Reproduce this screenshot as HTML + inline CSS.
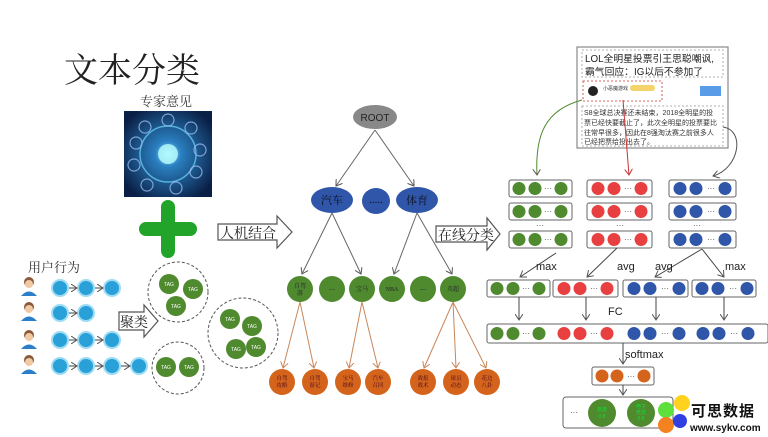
<!DOCTYPE html>
<html><head><meta charset="utf-8"><style>
html,body{margin:0;padding:0;background:#fff;}
svg{display:block;font-family:"Liberation Sans","Noto Sans CJK SC",sans-serif;}
.s{font-family:"Liberation Serif","Noto Serif CJK SC",serif;}
</style></head><body>
<svg width="768" height="437" viewBox="0 0 768 437" xmlns="http://www.w3.org/2000/svg">
<defs>
<marker id="ag" markerWidth="8" markerHeight="8" refX="6" refY="4" orient="auto" markerUnits="userSpaceOnUse"><path d="M0,0 L6,4 L0,8" fill="none" stroke="#555" stroke-width="1"/></marker>
<marker id="ao" markerWidth="8" markerHeight="8" refX="6" refY="4" orient="auto" markerUnits="userSpaceOnUse"><path d="M0,0 L6,4 L0,8" fill="none" stroke="#c9875a" stroke-width="1"/></marker>
<marker id="ar" markerWidth="8" markerHeight="8" refX="6" refY="4" orient="auto" markerUnits="userSpaceOnUse"><path d="M0,0 L6,4 L0,8" fill="none" stroke="#c33" stroke-width="1"/></marker>
<radialGradient id="img" cx="50%" cy="50%" r="60%"><stop offset="0" stop-color="#8fe8ff"/><stop offset="0.25" stop-color="#2a7fc0"/><stop offset="1" stop-color="#0a1f45"/></radialGradient>
</defs>
<text x="64" y="82" class="s" font-size="34" fill="#222">文本分类</text>
<text x="140" y="106" class="s" font-size="13" fill="#333">专家意见</text>
<rect x="124" y="111" width="88" height="86" fill="url(#img)"/>
<circle cx="168" cy="154" r="28" fill="none" stroke="#6cd6ff" stroke-width="1.5" opacity=".7"/>
<circle cx="168" cy="154" r="10" fill="#bff" opacity=".8"/>
<g fill="none" stroke="#9be" stroke-width="1.2" opacity=".8">
<circle cx="145" cy="127" r="6"/><circle cx="168" cy="120" r="6"/><circle cx="191" cy="128" r="6"/><circle cx="200" cy="150" r="6"/><circle cx="196" cy="172" r="6"/><circle cx="176" cy="188" r="6"/><circle cx="147" cy="185" r="6"/><circle cx="134" cy="165" r="6"/><circle cx="136" cy="143" r="6"/></g>
<path d="M168,207 V251 M146,229 H190" stroke="#22a32a" stroke-width="14" stroke-linecap="round"/>
<text x="28" y="272" class="s" font-size="13" fill="#333">用户行为</text>
<g>
<g id="u"><circle cx="29" cy="282" r="5" fill="#8a5a3a"/><circle cx="29" cy="284" r="4" fill="#f1c9a5"/><path d="M21,296 Q29,287 37,296 Z" fill="#2a7fc8"/></g>
<use href="#u" y="25"/><use href="#u" y="53"/><use href="#u" y="78"/>
</g>
<g fill="#2aa0d8" stroke="#9ddcf3" stroke-width="2">
<circle cx="60" cy="288" r="8"/><circle cx="86" cy="288" r="8"/><circle cx="112" cy="288" r="8"/>
<circle cx="60" cy="313" r="8"/><circle cx="86" cy="313" r="8"/>
<circle cx="60" cy="340" r="8"/><circle cx="86" cy="340" r="8"/><circle cx="112" cy="340" r="8"/>
<circle cx="60" cy="366" r="8"/><circle cx="86" cy="366" r="8"/><circle cx="112" cy="366" r="8"/><circle cx="139" cy="366" r="8"/>
</g>
<g stroke="#444" stroke-width="1" marker-end="url(#ag)">
<line x1="69" y1="288" x2="77" y2="288"/><line x1="95" y1="288" x2="103" y2="288"/>
<line x1="69" y1="313" x2="77" y2="313"/>
<line x1="69" y1="340" x2="77" y2="340"/><line x1="95" y1="340" x2="103" y2="340"/>
<line x1="69" y1="366" x2="77" y2="366"/><line x1="95" y1="366" x2="103" y2="366"/><line x1="121" y1="366" x2="130" y2="366"/>
</g>
<path d="M119,312 H144 V305 L158,321 L144,337 V330 H119 Z" fill="#fff" stroke="#555" stroke-width="1.2"/>
<text x="120" y="327" class="s" font-size="14" fill="#222">聚类</text>
<path d="M218,224 H277 V216 L292,232 L277,248 V240 H218 Z" fill="#fff" stroke="#555" stroke-width="1.2"/>
<text x="220" y="238" class="s" font-size="14" fill="#222">人机结合</text>
<path d="M436,226 H487 V218 L500,234 L487,250 V242 H436 Z" fill="#fff" stroke="#555" stroke-width="1.2"/>
<text x="438" y="240" class="s" font-size="14" fill="#222">在线分类</text>
<g fill="none" stroke="#555" stroke-width="1" stroke-dasharray="3,2">
<circle cx="178" cy="292" r="30"/><circle cx="243" cy="333" r="35"/><circle cx="178" cy="368" r="26"/></g>
<g fill="#4f8a2e">
<circle cx="169" cy="284" r="10"/><circle cx="193" cy="289" r="10"/><circle cx="176" cy="306" r="10"/>
<circle cx="230" cy="319" r="10"/><circle cx="252" cy="326" r="10"/><circle cx="236" cy="349" r="10"/><circle cx="256" cy="347" r="10"/>
<circle cx="166" cy="367" r="10"/><circle cx="189" cy="367" r="10"/></g>
<g fill="#fff" font-size="5" text-anchor="middle">
<text x="169" y="286">TAG</text><text x="193" y="291">TAG</text><text x="176" y="308">TAG</text>
<text x="230" y="321">TAG</text><text x="252" y="328">TAG</text><text x="236" y="351">TAG</text><text x="256" y="349">TAG</text>
<text x="166" y="369">TAG</text><text x="189" y="369">TAG</text></g>
<g stroke="#666" stroke-width="1" marker-end="url(#ag)">
<line x1="375" y1="130" x2="336" y2="186"/><line x1="375" y1="130" x2="414" y2="186"/>
<line x1="332" y1="213" x2="302" y2="274"/><line x1="332" y1="213" x2="361" y2="274"/>
<line x1="417" y1="213" x2="394" y2="274"/><line x1="417" y1="213" x2="452" y2="274"/>
</g>
<g stroke="#c9875a" stroke-width="1" marker-end="url(#ao)">
<line x1="300" y1="302" x2="283" y2="368"/><line x1="300" y1="302" x2="314" y2="368"/>
<line x1="362" y1="302" x2="349" y2="368"/><line x1="362" y1="302" x2="378" y2="368"/>
<line x1="453" y1="302" x2="424" y2="368"/><line x1="453" y1="302" x2="456" y2="368"/><line x1="453" y1="302" x2="486" y2="368"/>
</g>
<ellipse cx="375" cy="117" rx="22" ry="12" fill="#888"/>
<text x="375" y="121" font-size="10" text-anchor="middle" fill="#222">ROOT</text>
<g fill="#2f56a8"><ellipse cx="332" cy="200" rx="21" ry="13"/><ellipse cx="376" cy="201" rx="14" ry="13"/><ellipse cx="417" cy="200" rx="21" ry="13"/></g>
<g class="s" font-size="11" fill="#112" text-anchor="middle"><text x="332" y="204">汽车</text><text x="376" y="203">.....</text><text x="417" y="204">体育</text></g>
<g fill="#4f8a2e"><circle cx="300" cy="289" r="13"/><circle cx="332" cy="289" r="13"/><circle cx="362" cy="289" r="13"/><circle cx="392" cy="289" r="13"/><circle cx="423" cy="289" r="13"/><circle cx="453" cy="289" r="13"/></g>
<g class="s" font-size="6" fill="#223" text-anchor="middle"><text x="300" y="288">自驾</text><text x="300" y="295">游</text><text x="332" y="291">—</text><text x="362" y="291">宝马</text><text x="392" y="291">NBA</text><text x="423" y="291">—</text><text x="453" y="291">英超</text></g>
<g fill="#d4641c"><circle cx="282" cy="382" r="13"/><circle cx="315" cy="382" r="13"/><circle cx="348" cy="382" r="13"/><circle cx="378" cy="382" r="13"/><circle cx="423" cy="382" r="13"/><circle cx="456" cy="382" r="13"/><circle cx="487" cy="382" r="13"/></g>
<g class="s" font-size="5.5" fill="#402" text-anchor="middle">
<text x="282" y="380">自驾</text><text x="282" y="387">攻略</text><text x="315" y="380">自驾</text><text x="315" y="387">游记</text>
<text x="348" y="380">宝马</text><text x="348" y="387">维修</text><text x="378" y="380">汽车</text><text x="378" y="387">召回</text>
<text x="423" y="380">战报</text><text x="423" y="387">战术</text><text x="456" y="380">球员</text><text x="456" y="387">动态</text>
<text x="487" y="380">花边</text><text x="487" y="387">八卦</text></g>
<rect x="577" y="47" width="151" height="101" fill="#fff" stroke="#888" stroke-width="1.2"/>
<rect x="582" y="50" width="141" height="27" fill="none" stroke="#999" stroke-dasharray="2,2" stroke-width=".8"/>
<text x="585" y="62" font-size="9.8" fill="#222">LOL全明星投票引王思聪嘲讽,</text>
<text x="585" y="75" font-size="9.8" fill="#222">霸气回应：IG以后不参加了</text>
<rect x="583" y="81" width="79" height="20" fill="none" stroke="#c33" stroke-dasharray="2,2" stroke-width=".8"/>
<circle cx="593" cy="91" r="5" fill="#222"/>
<text x="603" y="90" font-size="5" fill="#333">小恶魔游戏</text>
<rect x="630" y="85" width="25" height="6" rx="3" fill="#f3d36a"/>
<rect x="700" y="86" width="21" height="10" fill="#5a9be8"/>
<rect x="582" y="106" width="141" height="40" fill="none" stroke="#999" stroke-dasharray="2,2" stroke-width=".8"/>
<g font-size="7" fill="#333"><text x="584" y="115">S8全球总决赛还未结束，2018全明星的投</text><text x="584" y="125">票已经快要截止了，此次全明星的投票要比</text><text x="584" y="135">往常早很多，因此在8强淘汰赛之前很多人</text><text x="584" y="144">已经把票给投出去了。</text></g>
<path d="M582,100 C545,110 535,135 537,175" fill="none" stroke="#4f8a2e" stroke-width="1" marker-end="url(#ag)"/>
<line x1="623" y1="100" x2="629" y2="175" stroke="#c33" stroke-width="1" marker-end="url(#ar)"/>
<path d="M723,127 C745,130 740,168 713,176" fill="none" stroke="#555" stroke-width="1" marker-end="url(#ag)"/>
<g fill="#fff" stroke="#666" stroke-width="1">
<rect x="509" y="180" width="63" height="17" rx="2"/><rect x="509" y="203" width="63" height="17" rx="2"/><rect x="509" y="231" width="63" height="17" rx="2"/>
<rect x="587" y="180" width="65" height="17" rx="2"/><rect x="587" y="203" width="65" height="17" rx="2"/><rect x="587" y="231" width="65" height="17" rx="2"/>
<rect x="669" y="180" width="67" height="17" rx="2"/><rect x="669" y="203" width="67" height="17" rx="2"/><rect x="669" y="231" width="67" height="17" rx="2"/>
<rect x="487" y="280" width="63" height="17" rx="2"/><rect x="553" y="280" width="65" height="17" rx="2"/><rect x="623" y="280" width="65" height="17" rx="2"/><rect x="692" y="280" width="64" height="17" rx="2"/>
<rect x="487" y="324" width="281" height="19" rx="2"/>
<rect x="592" y="367" width="62" height="18" rx="2"/>
<rect x="563" y="397" width="110" height="31" rx="3"/>
</g>
<g id="gG" fill="#4f8a2e"><circle cx="519" cy="188.5" r="6.5"/><circle cx="535" cy="188.5" r="6.5"/><circle cx="561" cy="188.5" r="6.5"/></g>
<use href="#gG" y="23"/><use href="#gG" y="51"/><use href="#gG" x="-22" y="100"/><use href="#gG" x="-22" y="145"/>
<g id="gR" fill="#e84040"><circle cx="598" cy="188.5" r="6.5"/><circle cx="614" cy="188.5" r="6.5"/><circle cx="641" cy="188.5" r="6.5"/></g>
<use href="#gR" y="23"/><use href="#gR" y="51"/><use href="#gR" x="-34" y="100"/><use href="#gR" x="-34" y="145"/>
<g id="gB" fill="#2f56a8"><circle cx="680" cy="188.5" r="6.5"/><circle cx="696" cy="188.5" r="6.5"/><circle cx="725" cy="188.5" r="6.5"/></g>
<use href="#gB" y="23"/><use href="#gB" y="51"/><use href="#gB" x="-46" y="100"/><use href="#gB" x="22" y="100"/><use href="#gB" x="-46" y="145"/><use href="#gB" x="23" y="145"/>
<g font-size="8" fill="#444" text-anchor="middle">
<text x="548" y="191">···</text><text x="548" y="214">···</text><text x="548" y="242">···</text><text x="540" y="228">···</text>
<text x="628" y="191">···</text><text x="628" y="214">···</text><text x="628" y="242">···</text><text x="620" y="228">···</text>
<text x="711" y="191">···</text><text x="711" y="214">···</text><text x="711" y="242">···</text><text x="697" y="228">···</text>
<text x="526" y="291">···</text><text x="594" y="291">···</text><text x="665" y="291">···</text><text x="733" y="291">···</text>
<text x="526" y="336">···</text><text x="594" y="336">···</text><text x="665" y="336">···</text><text x="734" y="336">···</text>
<text x="631" y="379">···</text><text x="574" y="415">···</text></g>
<g fill="#d4641c"><circle cx="602" cy="376" r="6.5"/><circle cx="617" cy="376" r="6.5"/><circle cx="644" cy="376" r="6.5"/></g>
<g fill="#4f8a2e"><circle cx="602" cy="413" r="14"/><circle cx="641" cy="413" r="14"/></g>
<g font-size="5" fill="#1d3" text-anchor="middle"><text x="602" y="411">旅游</text><text x="602" y="418">0.8</text><text x="641" y="408">电子</text><text x="641" y="414">竞技</text><text x="641" y="420">0.6</text></g>
<g stroke="#444" stroke-width="1" marker-end="url(#ag)">
<line x1="556" y1="253" x2="520" y2="277"/><line x1="617" y1="248" x2="587" y2="277"/>
<line x1="702" y1="249" x2="655" y2="277"/><line x1="702" y1="249" x2="724" y2="277"/>
<line x1="519" y1="297" x2="519" y2="320"/><line x1="586" y1="297" x2="586" y2="320"/><line x1="656" y1="297" x2="656" y2="320"/><line x1="724" y1="297" x2="724" y2="320"/>
<line x1="623" y1="343" x2="623" y2="364"/><line x1="623" y1="385" x2="623" y2="395"/>
</g>
<g font-size="11" fill="#222"><text x="536" y="270">max</text><text x="617" y="270">avg</text><text x="655" y="270">avg</text><text x="725" y="270">max</text><text x="608" y="315">FC</text><text x="625" y="358">softmax</text></g>
<circle cx="666" cy="410" r="8" fill="#5de03c"/><circle cx="682" cy="403" r="8" fill="#ffd21e"/><circle cx="666" cy="425" r="8" fill="#f58220"/><circle cx="680" cy="421" r="7" fill="#3040e0"/>
<text x="691" y="416" font-size="15" font-weight="bold" fill="#111" letter-spacing="1">可思数据</text>
<text x="690" y="431" font-size="10" font-weight="bold" fill="#111">www.sykv.com</text>
</svg>
</body></html>
